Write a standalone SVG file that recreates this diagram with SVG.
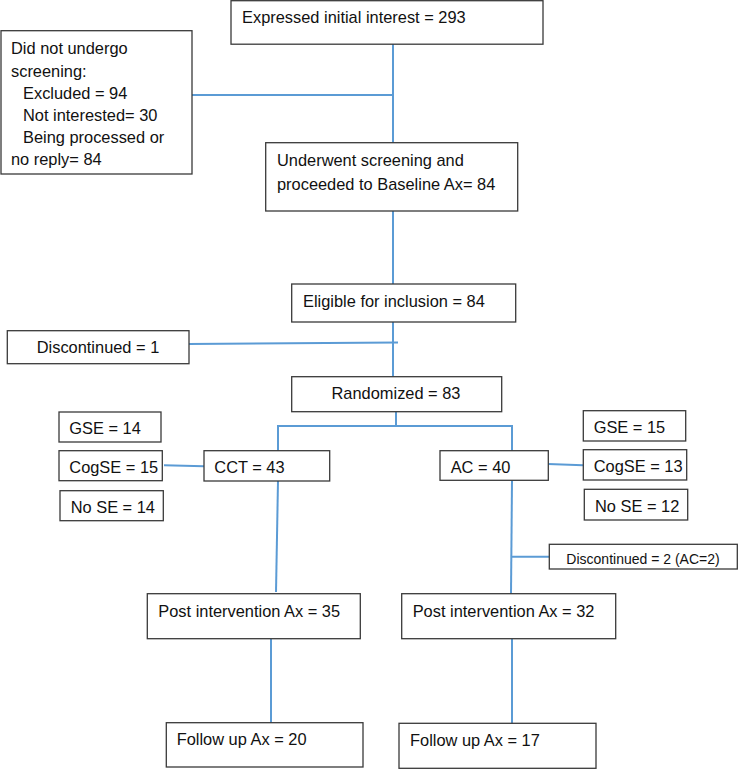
<svg xmlns="http://www.w3.org/2000/svg" width="738" height="769" viewBox="0 0 738 769">
<style>
.box{fill:#fff;stroke:#3a3a3a;stroke-width:1.3}
text{font-family:"Liberation Sans",Arial,sans-serif;font-size:16.4px;fill:#111}
.sm{font-size:14px}
.c{text-anchor:middle}
.ln{stroke:#5b9bd5;stroke-width:2;fill:none}
</style>
<rect width="738" height="769" fill="#fff"/>
<g id="connectors">
<line class="ln" x1="393" y1="44" x2="393" y2="143"/>
<line class="ln" x1="192" y1="95" x2="393" y2="95"/>
<line class="ln" x1="393" y1="211" x2="393" y2="284"/>
<line class="ln" x1="393" y1="322" x2="393" y2="377"/>
<line class="ln" x1="188" y1="344" x2="398" y2="342.5"/>
<line class="ln" x1="396" y1="412" x2="396" y2="426"/>
<polyline class="ln" points="278,451 278,426 512,426 512,451"/>
<line class="ln" x1="164" y1="465.3" x2="204" y2="466.3"/>
<line class="ln" x1="548" y1="464" x2="583" y2="465.3"/>
<line class="ln" x1="278" y1="481" x2="276" y2="592"/>
<line class="ln" x1="512" y1="480" x2="511" y2="594"/>
<line class="ln" x1="512" y1="556.7" x2="549" y2="556.7"/>
<line class="ln" x1="271" y1="639" x2="271" y2="724"/>
<line class="ln" x1="512" y1="639" x2="512" y2="725"/>
</g>
<g id="n-expressed"><rect class="box" x="231" y="0.7" width="312" height="43.5"/><text x="242" y="23">Expressed initial interest = 293</text></g>
<g id="n-notscreened"><rect class="box" x="1" y="30.7" width="191" height="143.3"/>
<text x="11" y="54">Did not undergo</text>
<text x="11" y="77">screening:</text>
<text x="23" y="98.5">Excluded = 94</text>
<text x="23" y="120.5">Not interested= 30</text>
<text x="23" y="142.5">Being processed or</text>
<text x="11" y="164.5">no reply= 84</text></g>
<g id="n-underwent"><rect class="box" x="265.7" y="142.7" width="252" height="68.3"/>
<text x="277" y="166">Underwent screening and</text>
<text x="277" y="190">proceeded to Baseline Ax= 84</text></g>
<g id="n-eligible"><rect class="box" x="291.7" y="284" width="224" height="38"/><text x="303" y="307">Eligible for inclusion = 84</text></g>
<g id="n-disc1"><rect class="box" x="7.3" y="330.7" width="181.7" height="33"/><text class="c" x="98" y="353">Discontinued = 1</text></g>
<g id="n-random"><rect class="box" x="291.7" y="376.7" width="210" height="35"/><text class="c" x="396" y="399">Randomized = 83</text></g>
<g id="n-gse14"><rect class="box" x="59" y="412" width="102" height="30"/><text x="69.3" y="434">GSE = 14</text></g>
<g id="n-cogse15"><rect class="box" x="59" y="450.7" width="103.3" height="30"/><text x="69.3" y="472.7">CogSE = 15</text></g>
<g id="n-nose14"><rect class="box" x="60" y="490.7" width="103.3" height="30"/><text x="70.7" y="512.7">No SE = 14</text></g>
<g id="n-cct"><rect class="box" x="204" y="450.7" width="125.7" height="30.3"/><text x="214.3" y="472.7">CCT = 43</text></g>
<g id="n-ac"><rect class="box" x="440" y="450.7" width="108.3" height="29.6"/><text x="450.7" y="472.7">AC = 40</text></g>
<g id="n-gse15"><rect class="box" x="583.3" y="410.7" width="102.4" height="30.3"/><text x="593.7" y="433.3">GSE = 15</text></g>
<g id="n-cogse13"><rect class="box" x="583.3" y="449.7" width="103.4" height="30.3"/><text x="593.7" y="472.3">CogSE = 13</text></g>
<g id="n-nose12"><rect class="box" x="584.3" y="489.3" width="103.4" height="30.7"/><text x="595" y="512.3">No SE = 12</text></g>
<g id="n-disc2"><rect class="box" x="549.3" y="544.3" width="188" height="24.7"/><text class="c sm" x="643" y="564.3">Discontinued = 2 (AC=2)</text></g>
<g id="n-post35"><rect class="box" x="147.3" y="593.7" width="213" height="45"/><text x="158.3" y="616.7">Post intervention Ax = 35</text></g>
<g id="n-post32"><rect class="box" x="401.7" y="593.7" width="214" height="45"/><text x="412.7" y="616.7">Post intervention Ax = 32</text></g>
<g id="n-follow20"><rect class="box" x="166.3" y="722.7" width="196.7" height="44.3"/><text x="176.7" y="745">Follow up Ax = 20</text></g>
<g id="n-follow17"><rect class="box" x="399" y="723.3" width="197" height="45"/><text x="410" y="745.7">Follow up Ax = 17</text></g>
</svg>
